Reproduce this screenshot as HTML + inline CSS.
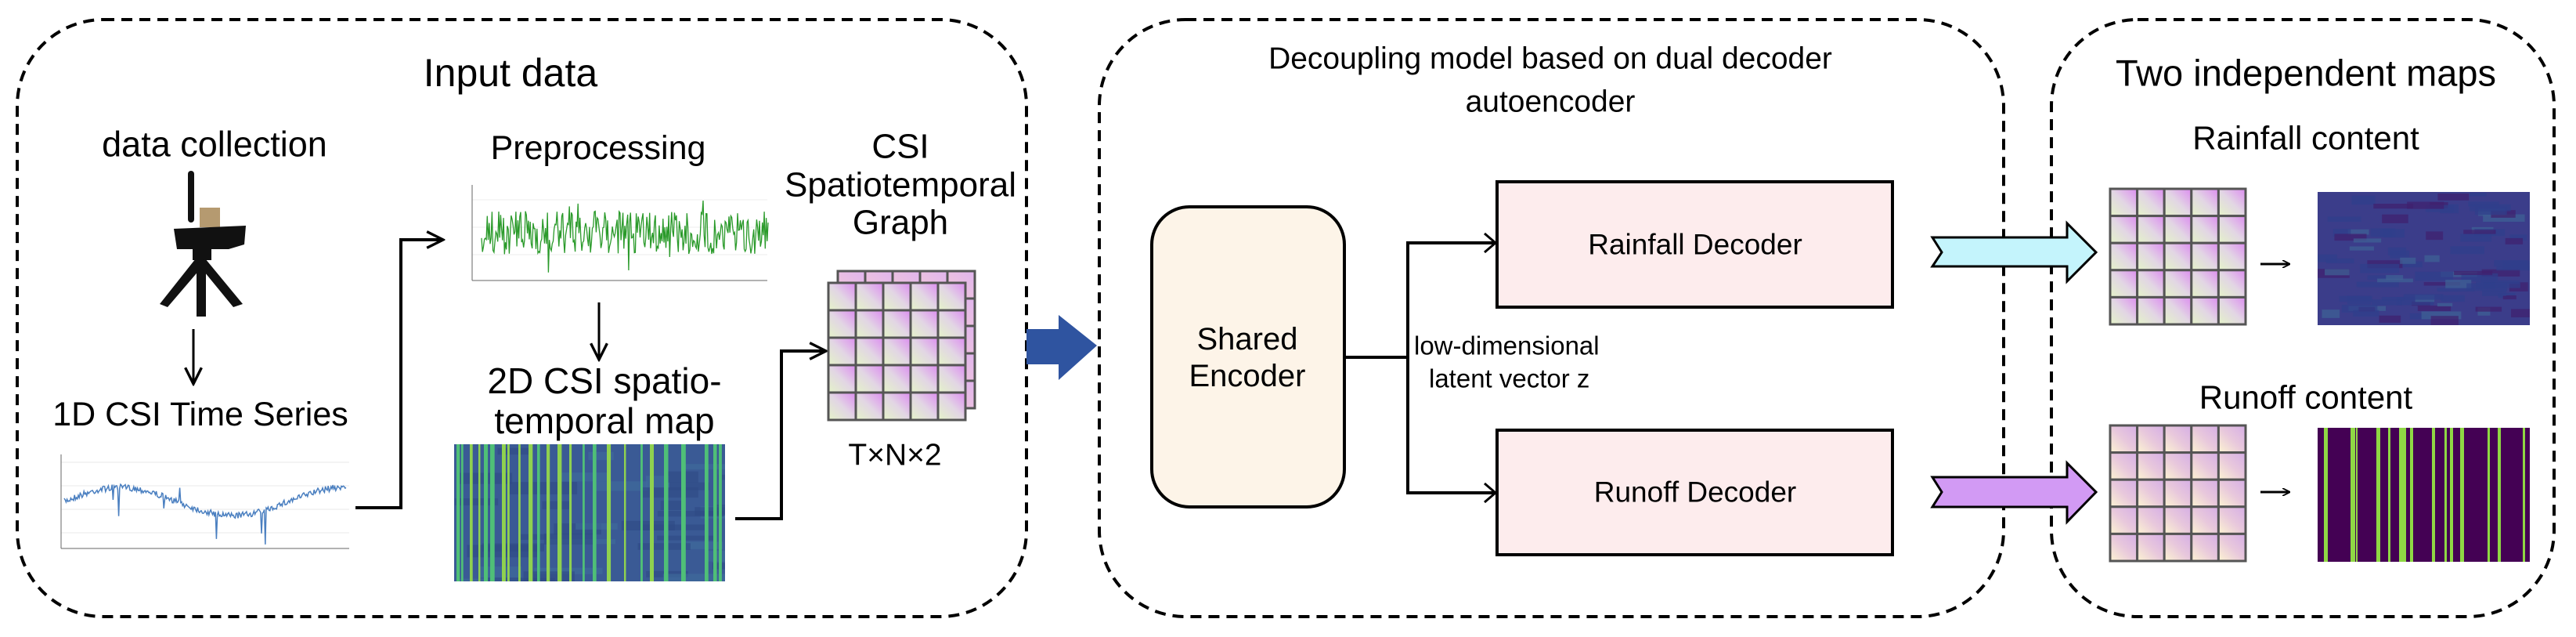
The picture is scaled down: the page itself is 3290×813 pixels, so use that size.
<!DOCTYPE html>
<html><head><meta charset="utf-8"><style>
html,body{margin:0;padding:0;background:#fff}
svg{display:block}
text{font-family:"Liberation Sans",sans-serif;fill:#000;dominant-baseline:central}
</style></head><body>
<svg id="s" width="3290" height="813" viewBox="0 0 3290 813" xmlns="http://www.w3.org/2000/svg">
<defs>
<linearGradient id="gA" x1="0" y1="1" x2="1" y2="0"><stop offset="0" stop-color="#e4f3c8"/><stop offset="0.5" stop-color="#e2d6e4"/><stop offset="1" stop-color="#dc8cf0"/></linearGradient>
<linearGradient id="gB" x1="0" y1="1" x2="1" y2="0"><stop offset="0" stop-color="#f3c8d8"/><stop offset="1" stop-color="#e0b4ee"/></linearGradient>
<linearGradient id="gC" x1="0" y1="1" x2="1" y2="0"><stop offset="0" stop-color="#fdf4d2"/><stop offset="0.5" stop-color="#e8c8dc"/><stop offset="1" stop-color="#d6aee6"/></linearGradient>
<clipPath id="c1"><rect x="580" y="567" width="346" height="175"/></clipPath>
<clipPath id="c2"><rect x="2960" y="245" width="271" height="170"/></clipPath>
<clipPath id="c3"><rect x="2960" y="546" width="271" height="171"/></clipPath>
<marker id="ah" viewBox="0 0 10 10" refX="9" refY="5" markerWidth="10" markerHeight="10" markerUnits="userSpaceOnUse" orient="auto"><path d="M0,0 L10,5 L0,10" fill="none" stroke="#000" stroke-width="1.8"/></marker>
<marker id="ah2" viewBox="0 0 10 10" refX="9" refY="5" markerWidth="26" markerHeight="30" markerUnits="userSpaceOnUse" orient="auto"><path d="M1,1 L9,5 L1,9" fill="none" stroke="#000" stroke-width="1.3"/></marker>
</defs>
<g fill="none" stroke="#000" stroke-width="4" stroke-dasharray="14,9">
<rect x="22" y="25" width="1289" height="762" rx="110"/>
<rect x="1404" y="25" width="1155" height="762" rx="110"/>
<rect x="2620" y="25" width="642" height="762" rx="110"/>
</g>
<text x="652" y="93" font-size="50" text-anchor="middle">Input data</text>
<text x="274" y="184" font-size="45" text-anchor="middle">data collection</text>
<text x="764" y="189" font-size="43" text-anchor="middle">Preprocessing</text>
<text x="256" y="529" font-size="43" text-anchor="middle">1D CSI Time Series</text>
<text x="772" y="486" font-size="46" text-anchor="middle">2D CSI spatio-</text>
<text x="772" y="537" font-size="46" text-anchor="middle">temporal map</text>
<text x="1150" y="187" font-size="44" text-anchor="middle">CSI</text>
<text x="1150" y="236" font-size="44" text-anchor="middle">Spatiotemporal</text>
<text x="1150" y="284" font-size="44" text-anchor="middle">Graph</text>
<text x="1143" y="581" font-size="39" text-anchor="middle">T×N×2</text>

<g fill="#111">
<rect x="240" y="218" width="8" height="66" rx="4"/>
<rect x="255" y="265" width="26" height="25" fill="#b59a70"/>
<path d="M222,292 L314,288 L312,312 L292,318 L226,318 Z"/>
<rect x="246" y="318" width="24" height="14"/>
<rect x="251" y="330" width="12" height="74"/>
<path d="M250,330 L262,336 L214,392 L204,388 Z"/>
<path d="M262,330 L252,336 L298,392 L310,388 Z"/>
</g>
<line x1="247" y1="420" x2="247" y2="490" stroke="#000" stroke-width="3" marker-end="url(#ah2)"/>

<g>
<rect x="58" y="573" width="393" height="148" fill="#fff"/>
<g stroke="#e8e8e8" stroke-width="1"><line x1="78" y1="590" x2="446" y2="590"/><line x1="78" y1="620" x2="446" y2="620"/><line x1="78" y1="650" x2="446" y2="650"/><line x1="78" y1="680" x2="446" y2="680"/></g>
<line x1="78" y1="700" x2="446" y2="700" stroke="#666"/><line x1="78" y1="580" x2="78" y2="700" stroke="#666"/>
<polyline id="p1" fill="none" stroke="#4a7fc0" stroke-width="1.5" points=""/>
</g>
<g>
<rect x="571" y="231" width="411" height="150" fill="#fff"/>
<g stroke="#ececec"><line x1="603" y1="255" x2="980" y2="255"/><line x1="603" y1="290" x2="980" y2="290"/><line x1="603" y1="325" x2="980" y2="325"/></g>
<line x1="603" y1="358" x2="980" y2="358" stroke="#666"/><line x1="603" y1="236" x2="603" y2="358" stroke="#666"/>
<polyline id="p2" fill="none" stroke="#2a9a2a" stroke-width="1.3" points=""/>
</g>
<line x1="765" y1="386" x2="765" y2="459" stroke="#000" stroke-width="3" marker-end="url(#ah2)"/>
<rect x="580" y="567" width="346" height="175" fill="#3a5a95"/>
<g id="h1" clip-path="url(#c1)"></g>
<polyline points="454,648 512,648 512,306 566,306" fill="none" stroke="#000" stroke-width="4" marker-end="url(#ah2)"/>
<polyline points="939,662 998,662 998,448 1055,448" fill="none" stroke="#000" stroke-width="4" marker-end="url(#ah2)"/>
<g id="grids"></g>
<polygon points="1311,420 1352,420 1352,402 1401,441 1352,485 1352,465 1311,465" fill="#2f54a0"/>

<text x="1980" y="75" font-size="39" text-anchor="middle">Decoupling model based on dual decoder</text>
<text x="1980" y="130" font-size="39" text-anchor="middle">autoencoder</text>
<rect x="1471" y="264" width="246" height="383" rx="48" fill="#fdf4e8" stroke="#000" stroke-width="4"/>
<text x="1593" y="433" font-size="40" text-anchor="middle">Shared</text>
<text x="1593" y="480" font-size="40" text-anchor="middle">Encoder</text>
<polyline points="1717,456 1798,456" fill="none" stroke="#000" stroke-width="4"/>
<polyline points="1910,310 1798,310 1798,629 1910,629" fill="none" stroke="#000" stroke-width="4"/>
<path d="M1896,298 L1910,310 L1896,322 M1896,617 L1910,629 L1896,641" fill="none" stroke="#000" stroke-width="3"/>
<rect x="1912" y="232" width="505" height="160" fill="#fdeced" stroke="#000" stroke-width="4"/>
<rect x="1912" y="549" width="505" height="159" fill="#fdeced" stroke="#000" stroke-width="4"/>
<text x="2165" y="312" font-size="37" text-anchor="middle">Rainfall Decoder</text>
<text x="2165" y="628" font-size="37" text-anchor="middle">Runoff Decoder</text>
<text x="1806" y="441" font-size="33">low-dimensional</text>
<text x="1825" y="483" font-size="33">latent vector z</text>
<polygon points="2468,303 2640,303 2640,285 2677,322 2640,359 2640,340 2468,340 2480,322" fill="#c4f4fc" stroke="#000" stroke-width="3"/>
<polygon points="2468,609 2640,609 2640,591 2677,628 2640,666 2640,647 2468,647 2480,628" fill="#d29af4" stroke="#000" stroke-width="3"/>

<text x="2945" y="93" font-size="47" text-anchor="middle">Two independent maps</text>
<text x="2945" y="176" font-size="42" text-anchor="middle">Rainfall content</text>
<text x="2945" y="507" font-size="42" text-anchor="middle">Runoff content</text>
<line x1="2887" y1="337" x2="2924" y2="337" stroke="#000" stroke-width="3" marker-end="url(#ah)"/>
<line x1="2887" y1="628" x2="2924" y2="628" stroke="#000" stroke-width="3" marker-end="url(#ah)"/>
<rect x="2960" y="245" width="271" height="170" fill="#3b3d8a"/>
<g id="h2" clip-path="url(#c2)"></g>
<rect x="2960" y="546" width="271" height="171" fill="#440154"/>
<g id="h3" clip-path="url(#c3)"></g>
</svg>
<script>
var NS="http://www.w3.org/2000/svg";
function el(t,a,p){var e=document.createElementNS(NS,t);for(var k in a)e.setAttribute(k,a[k]);(p||document.getElementById('s')).appendChild(e);return e;}
var seed=7;function r(){seed=(seed*16807)%2147483647;return seed/2147483647;}
var pts=[];for(var i=0;i<=300;i++){var x=82+i*1.2;var y=640-18*Math.sin(i/38)+(r()-0.5)*8;if(r()<0.02)y+=(r()-0.3)*60;pts.push(x.toFixed(1)+","+y.toFixed(1));}
document.getElementById('p1').setAttribute('points',pts.join(' '));
pts=[];for(var i=0;i<=300;i++){var x=615+i*1.22;var y=297+(r()-0.5)*55;if(r()<0.05)y+=(r()-0.5)*60;pts.push(x.toFixed(1)+","+y.toFixed(1));}
document.getElementById('p2').setAttribute('points',pts.join(' '));
var h1=document.getElementById('h1');
for(var i=0;i<40;i++){el('rect',{x:580+r()*346,y:567+r()*175,width:30+r()*60,height:6+r()*10,fill:r()<0.5?'#2f4a85':'#3f6c9c',opacity:0.6},h1);}
var xs=[583,589,600,611,618,626,641,648,662,675,686,698,712,727,744,757,775,797,818,830,848,870,900,911,918];
xs.forEach(function(x){var w=2+r()*4;el('rect',{x:x,y:567,width:w,height:175,fill:r()<0.5?'#8fd14f':'#4fbf77'},h1);});
var h2=document.getElementById('h2');
for(var i=0;i<90;i++){el('rect',{x:2960+r()*250,y:245+r()*162,width:15+r()*40,height:4+r()*8,fill:r()<0.5?'#2f3f8c':(r()<0.5?'#3e6396':'#401f6e'),opacity:0.7},h2);}
var h3=document.getElementById('h3');
[[2968,5],[3002,6],[3009,2],[3035,5],[3050,3],[3064,9],[3078,4],[3106,4],[3122,3],[3129,4],[3142,5],[3177,3],[3190,4],[3222,3]].forEach(function(a){el('rect',{x:a[0],y:546,width:a[1],height:171,fill:'#8fd744'},h3);});
var g=document.getElementById('grids');
function grid(x0,y0,c,fill){for(var i=0;i<5;i++)for(var j=0;j<5;j++)el('rect',{x:x0+j*c,y:y0+i*c,width:c,height:c,fill:fill,stroke:'#555',"stroke-width":3},g);}
grid(1070,346,35,'url(#gB)');
grid(1058,361,35,'url(#gA)');
grid(2695,241,34.6,'url(#gA)');
grid(2695,543,34.6,'url(#gC)');
</script>
</body></html>
